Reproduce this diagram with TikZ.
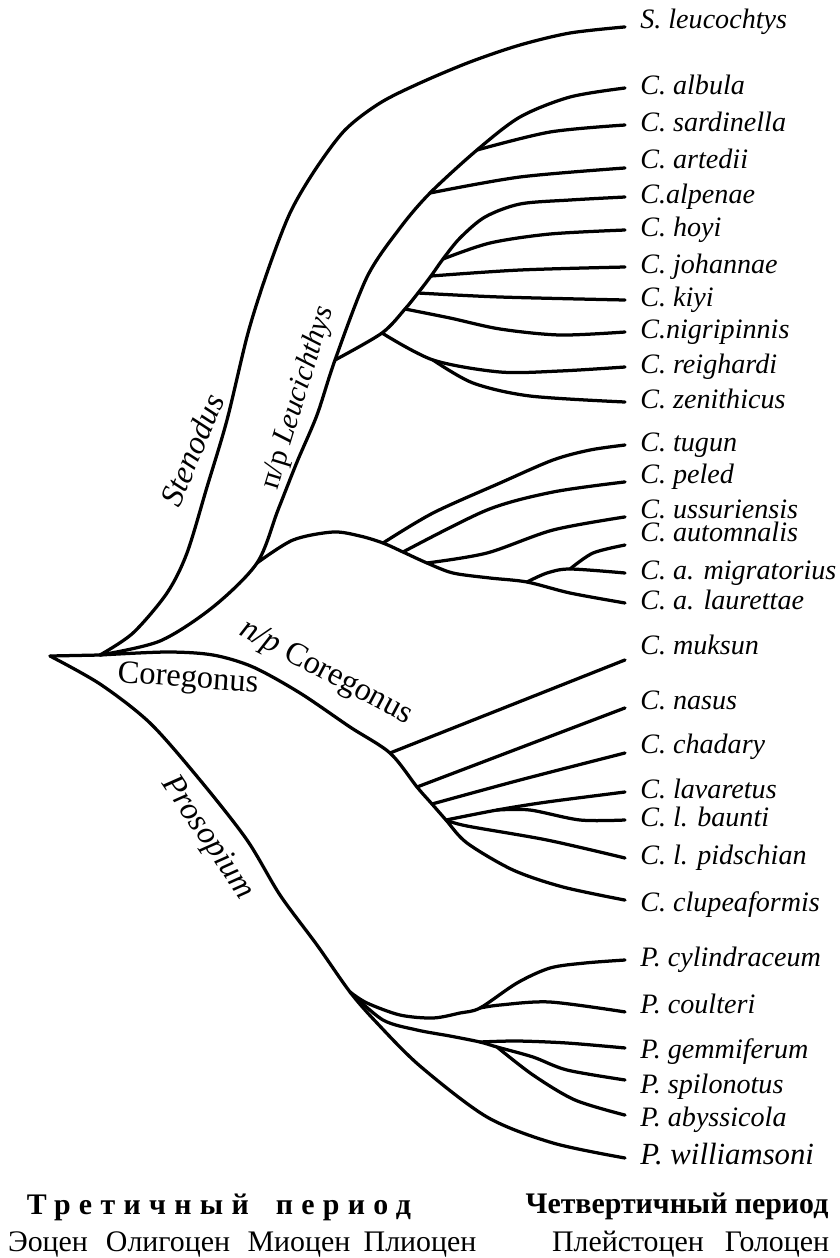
\documentclass[tikz,border=0pt]{standalone}
\usepackage{fontspec}
\setmainfont{Liberation Serif}
\usepackage{tikz}
\usetikzlibrary{calc}
\tikzset{
  branch/.style={line width=1.85pt, line cap=round, line join=round},
  taxon/.style={anchor=west, inner xsep=8.5pt, inner ysep=0pt,
    text height=11pt, text depth=3.5pt,
    font=\fontsize{16}{16}\selectfont\itshape},
  clade/.style={inner sep=0pt, font=\fontsize{18.5}{19}\selectfont\itshape},
  epoch/.style={anchor=base, inner sep=0pt, font=\fontsize{17}{18}\selectfont},
  period/.style={anchor=base, inner sep=0pt, font=\fontsize{17}{18}\selectfont\bfseries}
}

\begin{document}
\begin{tikzpicture}[x=0.02cm, y=-0.02cm]
  \useasboundingbox (0,0) rectangle (839,1258);

  % Taxa at the tips
  \node[taxon] (sleu) at (625,22) {S. leucochtys};
  \node[taxon] (alb) at (625,88) {C. albula};
  \node[taxon] (sar) at (625,125) {C. sardinella};
  \node[taxon] (art) at (625,162) {C. artedii};
  \node[taxon] (alp) at (625,197) {C.alpenae};
  \node[taxon] (hoy) at (625,230) {C. hoyi};
  \node[taxon] (joh) at (625,267) {C. johannae};
  \node[taxon] (kiy) at (625,300) {C. kiyi};
  \node[taxon] (nig) at (625,332) {C.nigripinnis};
  \node[taxon] (rei) at (625,367) {C. reighardi};
  \node[taxon] (zen) at (625,402) {C. zenithicus};
  \node[taxon] (tug) at (625,445) {C. tugun};
  \node[taxon] (pel) at (625,477) {C. peled};
  \node[taxon] (uss) at (625,512) {C. ussuriensis};
  \node[taxon] (aut) at (625,535) {C. automnalis};
  \node[taxon] (mig) at (625,573) {C. a. migratorius};
  \node[taxon] (lau) at (625,603) {C. a. laurettae};
  \node[taxon] (muk) at (625,648) {C. muksun};
  \node[taxon] (nas) at (625,703) {C. nasus};
  \node[taxon] (cha) at (625,747) {C. chadary};
  \node[taxon] (lav) at (625,792) {C. lavaretus};
  \node[taxon] (bau) at (625,820) {C. l. baunti};
  \node[taxon] (pid) at (625,858) {C. l. pidschian};
  \node[taxon] (clu) at (625,905) {C. clupeaformis};
  \node[taxon] (cyl) at (625,960) {P. cylindraceum};
  \node[taxon] (cou) at (625,1007) {P. coulteri};
  \node[taxon] (gem) at (625,1052) {P. gemmiferum};
  \node[taxon] (spi) at (625,1087) {P. spilonotus};
  \node[taxon] (aby) at (625,1120) {P. abyssicola};
  \node[taxon, font=\fontsize{17.5}{18}\selectfont\itshape] (wil) at (625,1158) {P. williamsoni};

  % Branching points
  \coordinate (root) at (50,656);
  \coordinate (cor) at (100,655);
  \coordinate (leu) at (257,563);
  \coordinate (jlow) at (335,360);
  \coordinate (jart) at (430,193);
  \coordinate (jsar) at (477,150);
  \coordinate (jrz) at (382,333);
  \coordinate (jrz2) at (433,360);
  \coordinate (jnig) at (405,309);
  \coordinate (jkiy) at (418,293);
  \coordinate (jjoh) at (431,276);
  \coordinate (jhoy) at (443,259);
  \coordinate (jtug) at (383,543);
  \coordinate (jpel) at (403,552);
  \coordinate (juss) at (427,563);
  \coordinate (jaut) at (527,582);
  \coordinate (jmig) at (570,569);
  \coordinate (jmuk) at (390,753);
  \coordinate (jnas) at (417,787);
  \coordinate (jcha) at (432,804);
  \coordinate (jlav) at (446,820);
  \coordinate (jbau) at (497,810);
  \coordinate (jpro) at (350,992);
  \coordinate (jcyl) at (480,1008);
  \coordinate (jgem) at (480,1042);
  \coordinate (jspi) at (497,1047);

  % Stenodus
  \draw[branch] (root) -- (cor);
  \draw[branch] plot[smooth] coordinates {(cor) (133,633) (167,593) (187,553) (207,487) (227,420) (248,333) (268,270) (290,213) (315,170) (345,130) (380,103) (420,83) (470,62) (520,45) (570,33) ([yshift=-2.8pt]sleu.west)};

  % Leucichthys
  \draw[branch] plot[smooth] coordinates {(cor) (160,641) (213,607) (leu) (278,510) (297,462) (317,415) (jlow) (367,277) (400,228) (jart) (jsar) (520,117) (570,97) (alb.west)};
  \draw[branch] plot[smooth] coordinates {(jsar) (550,132) (sar.west)};
  \draw[branch] plot[smooth] coordinates {(jart) (520,177) ([yshift=-3.4pt]art.west)};
  \draw[branch] plot[smooth] coordinates {(jlow) (jrz) (jnig) (jkiy) (jjoh) (jhoy) (460,238) (485,217) (520,204) (570,200) (alp.west)};
  \draw[branch] plot[smooth] coordinates {(jhoy) (490,243) (550,234) (hoy.west)};
  \draw[branch] plot[smooth] coordinates {(jjoh) (520,270) (joh.west)};
  \draw[branch] plot[smooth] coordinates {(jkiy) (500,297) (kiy.west)};
  \draw[branch] plot[smooth] coordinates {(jnig) (450,318) (500,329) (560,335) (nig.west)};
  \draw[branch] plot[smooth] coordinates {(jrz) (jrz2) (500,372) (560,371) (rei.west)};
  \draw[branch] plot[smooth] coordinates {(jrz2) (473,383) (530,396) (zen.west)};

  % tugun group
  \draw[branch] plot[smooth] coordinates {(leu) (293,540) (333,532) (360,536) (jtug) (jpel) (juss) (453,573) (490,578) (jaut) (570,593) (lau.west)};
  \draw[branch] plot[smooth] coordinates {(jtug) (433,513) (500,483) (553,460) (590,450) (tug.west)};
  \draw[branch] plot[smooth] coordinates {(jpel) (487,510) (553,492) ([yshift=-2.8pt]pel.west)};
  \draw[branch] plot[smooth] coordinates {(juss) (487,553) (553,530) ([yshift=-2.8pt]uss.west)};
  \draw[branch] plot[smooth] coordinates {(jaut) (547,573) (jmig) (mig.west)};
  \draw[branch] plot[smooth] coordinates {(jmig) (593,553) ([yshift=-5.7pt]aut.west)};

  % Coregonus
  \draw[branch] plot[smooth] coordinates {(cor) (167,652) (213,655) (253,667) (300,693) (350,727) (jmuk) (jnas) (jcha) (jlav) (467,843) (513,870) (563,887) ([yshift=2.8pt]clu.west)};
  \draw[branch] (jmuk) -- ([yshift=-6.8pt]muk.west);
  \draw[branch] (jnas) -- ([yshift=-2.8pt]nas.west);
  \draw[branch] plot[smooth] coordinates {(jcha) (520,780) ([yshift=-3.4pt]cha.west)};
  \draw[branch] plot[smooth] coordinates {(jlav) (jbau) (547,802) (lav.west)};
  \draw[branch] plot[smooth] coordinates {(jbau) (530,810) (580,820) (bau.west)};
  \draw[branch] plot[smooth] coordinates {(jlav) (467,826) (547,840) (pid.west)};

  % Prosopium
  \draw[branch] plot[smooth] coordinates {(root) (100,684) (150,723) (200,780) (247,840) (280,895) (317,945) (jpro) (377,1023) (420,1066) (487,1117) (553,1143) (wil.west)};
  \draw[branch] plot[smooth] coordinates {(jpro) (367,1003) (400,1015) (433,1018) (460,1013) (jcyl) (517,983) (550,968) (585,963) (cyl.west)};
  \draw[branch] plot[smooth] coordinates {(jcyl) (500,1005) (550,1002) ([yshift=-2.8pt]cou.west)};
  \draw[branch] plot[smooth] coordinates {(jpro) (383,1020) (417,1030) (450,1036) (jgem) (jspi) (533,1057) (567,1070) ([yshift=4pt]spi.west)};
  \draw[branch] plot[smooth] coordinates {(jgem) (517,1041) (567,1043) ([yshift=2.3pt]gem.west)};
  \draw[branch] plot[smooth] coordinates {(jspi) (533,1075) (575,1100) ([yshift=2.8pt]aby.west)};

  % Clade names
  \node[clade, rotate=67] (sten) at (192,450) {Stenodus};
  \node[clade, rotate=73, font=\fontsize{17}{18}\selectfont] (leuc) at (298,398) {п/р \textit{Leucichthys}};
  \node[clade, rotate=-4, font=\fontsize{18.5}{19}\selectfont] (coreg) at (188,680) {Coregonus};
  \node[clade, rotate=-28] (npcor) at (326,673) {п/р \textup{Coregonus}};
  \node[clade, rotate=-56] (pros) at (207,838) {Prosopium};

  % Time scale
  \node[period] (tert) at (219,1214) {\addfontfeature{LetterSpace=28}Третичный\hspace{0.9em}период};
  \node[period] (quat) at (677,1213) {Четвертичный период};
  \node[epoch] (eoc) at (48,1251) {Эоцен};
  \node[epoch] (oli) at (168,1251) {Олигоцен};
  \node[epoch] (mio) at (299,1251) {Миоцен};
  \node[epoch] (pli) at (420,1251) {Плиоцен};
  \node[epoch] (ple) at (628,1251) {Плейстоцен};
  \node[epoch] (hol) at (777,1251) {Голоцен};
\end{tikzpicture}
\end{document}
